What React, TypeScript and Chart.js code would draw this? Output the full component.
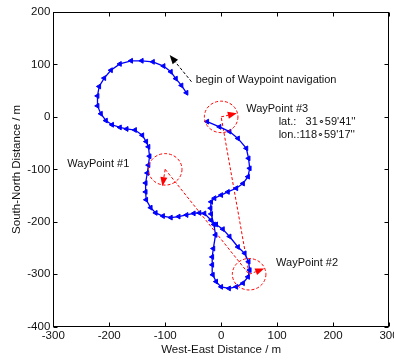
import React, { useEffect, useRef } from "react";
import { Chart, registerables } from "chart.js";

Chart.register(...registerables);

// Vehicle track (m)
const pathX = [-62,-71,-81,-90,-103,-122,-142,-161,-181,-197,-209,-218,-221,-221,-215,-206,-195,-181,-169,-154,-141,-134,-130,-128,-130,-132,-135,-135,-134,-126,-117,-104,-90,-76,-62,-49,-39,-30,-18,-9,3,15,30,42,49,51,48,39,27,14,0,-9,-15,-16,-16,-14,-10,-13,-18,-19,-18,-12,0,12,27,39,48,51,49,45,30,15,-3,-25];
const pathY = [46,60,73,86,97,105,107,107,101,89,74,58,40,21,6,-7,-15,-20,-23,-25,-35,-47,-57,-75,-92,-107,-126,-143,-158,-173,-183,-189,-192,-190,-187,-184,-183,-184,-197,-205,-214,-228,-248,-260,-276,-292,-305,-317,-324,-327,-324,-314,-301,-282,-267,-251,-225,-205,-185,-174,-162,-155,-149,-143,-136,-127,-114,-98,-79,-60,-41,-28,-19,-9];

// Waypoints (order of route: #1 -> #2 -> #3)
const wpX = [-100, 50, 0];
const wpY = [-100, -300, 0];
const wpRadius = 30;

// Heading arrows at waypoints (end points)
const headX = [-105, 77, 28];
const headY = [-132, -289, 7];

// "begin" arrow
const beginFrom = [-53, 67];
const beginTo = [-92, 118];

// Tick values
const xTicks = [-300, -200, -100, 0, 100, 200, 300];
const yTicks = [-400, -300, -200, -100, 0, 100, 200];

// Annotation texts (anchored at left / middle, data units)
const noteText = [
  "begin of Waypoint navigation",
  "WayPoint #3",
  "lat.:   31\u221859'41''",
  "lon.:118\u221859'17''",
  "WayPoint #1",
  "WayPoint #2",
];
const noteX = [-45.6, 44.7, 102.8, 102.8, -275, 98.2];
const noteY = [70.4, 15.1, -10.3, -34.5, -90.4, -278];

const FONT = "'Liberation Sans', Arial, sans-serif";

function drawArrow(ctx: CanvasRenderingContext2D, x0: number, y0: number, x1: number, y1: number, color: string) {
  const ang = Math.atan2(y1 - y0, x1 - x0);
  const L = 9, W = 3.5;
  const bx = x1 - L * Math.cos(ang);
  const by = y1 - L * Math.sin(ang);
  ctx.save();
  ctx.strokeStyle = color;
  ctx.fillStyle = color;
  ctx.lineWidth = 1;
  ctx.setLineDash([3, 2]);
  ctx.beginPath();
  ctx.moveTo(x0, y0);
  ctx.lineTo(bx, by);
  ctx.stroke();
  ctx.setLineDash([]);
  ctx.beginPath();
  ctx.moveTo(x1, y1);
  ctx.lineTo(bx + W * Math.sin(ang), by - W * Math.cos(ang));
  ctx.lineTo(bx - W * Math.sin(ang), by + W * Math.cos(ang));
  ctx.closePath();
  ctx.fill();
  ctx.restore();
}

const annotPlugin = {
  id: "annot",
  afterDatasetsDraw(chart: any) {
    const ctx: CanvasRenderingContext2D = chart.ctx;
    const xs = chart.scales.x;
    const ys = chart.scales.y;
    const px = (v: number) => xs.getPixelForValue(v);
    const py = (v: number) => ys.getPixelForValue(v);

    // waypoint circles
    ctx.save();
    ctx.strokeStyle = "#ff0000";
    ctx.lineWidth = 1;
    ctx.setLineDash([3, 2]);
    for (let i = 0; i < wpX.length; i++) {
      const cx = px(wpX[i]);
      const cy = py(wpY[i]);
      const rx = Math.abs(px(wpX[i] + wpRadius) - cx);
      const ry = Math.abs(py(wpY[i] + wpRadius) - cy);
      ctx.beginPath();
      ctx.ellipse(cx, cy, rx, ry, 0, 0, Math.PI * 2);
      ctx.stroke();
    }
    ctx.restore();

    // heading arrows
    for (let i = 0; i < wpX.length; i++) {
      drawArrow(ctx, px(wpX[i]), py(wpY[i]), px(headX[i]), py(headY[i]), "#ff0000");
    }
    drawArrow(ctx, px(beginFrom[0]), py(beginFrom[1]), px(beginTo[0]), py(beginTo[1]), "#000000");

    // texts
    ctx.save();
    ctx.fillStyle = "#111";
    ctx.font = `11px ${FONT}`;
    ctx.textAlign = "left";
    ctx.textBaseline = "middle";
    for (let i = 0; i < noteText.length; i++) {
      ctx.fillText(noteText[i], px(noteX[i]), py(noteY[i]));
    }
    ctx.restore();
  },
  afterDraw(chart: any) {
    const ctx: CanvasRenderingContext2D = chart.ctx;
    const a = chart.chartArea;
    const xs = chart.scales.x;
    const ys = chart.scales.y;
    ctx.save();
    ctx.strokeStyle = "#000";
    ctx.lineWidth = 1;
    const L = Math.round(a.left) + 0.5;
    const R = Math.round(a.right) - 0.5;
    const T = Math.round(a.top) + 0.5;
    const B = Math.round(a.bottom) - 0.5;
    ctx.strokeRect(L, T, R - L, B - T);
    const tl = 4;
    ctx.beginPath();
    for (const v of xTicks) {
      const x = Math.round(xs.getPixelForValue(v)) + 0.5;
      ctx.moveTo(x, B); ctx.lineTo(x, B - tl);
      ctx.moveTo(x, T); ctx.lineTo(x, T + tl);
    }
    for (const v of yTicks) {
      const y = Math.round(ys.getPixelForValue(v)) + 0.5;
      ctx.moveTo(L, y); ctx.lineTo(L + tl, y);
      ctx.moveTo(R, y); ctx.lineTo(R - tl, y);
    }
    ctx.stroke();

    // axis titles
    ctx.fillStyle = "#111";
    ctx.font = `11.5px ${FONT}`;
    ctx.textAlign = "center";
    ctx.textBaseline = "middle";
    ctx.fillText("West-East Distance / m", (a.left + a.right) / 2, 350);
    ctx.translate(17, (a.top + a.bottom) / 2);
    ctx.rotate(-Math.PI / 2);
    ctx.fillText("South-North Distance / m", 0, 0);
    ctx.restore();
  },
};

export default function App() {
  const ref = useRef<HTMLCanvasElement | null>(null);
  useEffect(() => {
    if (!ref.current) return;
    const pathPts = pathX.map((x, i) => ({ x, y: pathY[i] }));
    const routePts = wpX.map((x, i) => ({ x, y: wpY[i] }));
    const tickFont = { family: FONT, size: 11.5 };
    const chart = new Chart(ref.current, {
      type: "scatter",
      data: {
        datasets: [
          {
            label: "route",
            data: routePts,
            showLine: true,
            borderColor: "#ff0000",
            borderWidth: 1,
            borderDash: [3, 2],
            pointRadius: 0,
            order: 2,
          } as any,
          {
            label: "track",
            data: pathPts,
            showLine: true,
            borderColor: "#0000ff",
            backgroundColor: "#0000ff",
            borderWidth: 1.3,
            pointStyle: "triangle",
            rotation: -90,
            pointRadius: 2.8,
            pointBorderWidth: 1,
            pointBorderColor: "#0000ff",
            pointBackgroundColor: "#0000ff",
            order: 1,
          } as any,
        ],
      },
      options: {
        animation: false,
        responsive: false,
        maintainAspectRatio: false,
        events: [],
        layout: { padding: { left: 0, right: 4, top: 12, bottom: 0 } },
        plugins: { legend: { display: false }, tooltip: { enabled: false } },
        scales: {
          x: {
            type: "linear",
            min: -300,
            max: 300,
            ticks: { stepSize: 100, font: tickFont, color: "#111", padding: 2, maxRotation: 0, autoSkip: false },
            grid: { display: false, drawTicks: false },
            border: { display: false },
            afterFit: (s: any) => {
              s.height = 33.3;
              s.paddingLeft = 0;
              s.paddingRight = 0;
            },
          },
          y: {
            type: "linear",
            min: -400,
            max: 200,
            ticks: { stepSize: 100, font: tickFont, color: "#111", padding: 3, autoSkip: false },
            grid: { display: false, drawTicks: false },
            border: { display: false },
            afterFit: (s: any) => {
              s.width = 53.3;
              s.paddingTop = 0;
              s.paddingBottom = 0;
            },
          },
        },
      },
      plugins: [annotPlugin],
    } as any);
    return () => chart.destroy();
  }, []);
  return (
    <div style={{ position: "fixed", left: 0, top: 0, width: 394, height: 360, background: "#fff" }}>
      <canvas ref={ref} width={394} height={360} />
    </div>
  );
}
